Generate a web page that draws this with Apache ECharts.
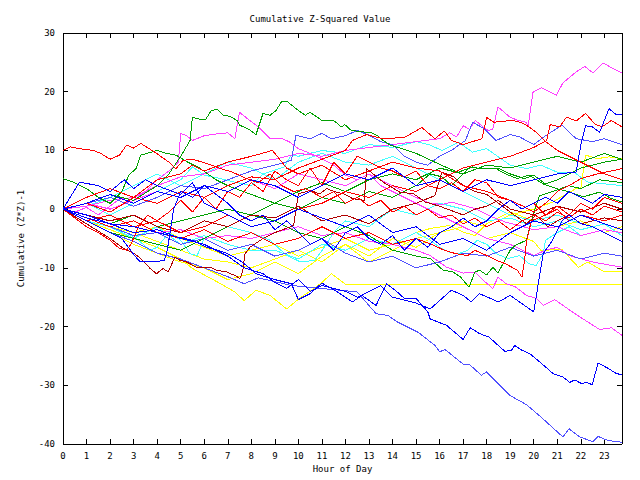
<!DOCTYPE html>
<html><head><meta charset="utf-8">
<script src="https://cdn.jsdelivr.net/npm/echarts@6/dist/echarts.min.js"></script>
<style>html,body{margin:0;padding:0;background:#fff}#c{width:640px;height:480px}#c svg path{shape-rendering:crispEdges}</style>
</head><body><div id="c"></div>
<script>
const xTicks = [0,1,2,3,4,5,6,7,8,9,10,11,12,13,14,15,16,17,18,19,20,21,22,23];
const yTicks = [-40,-30,-20,-10,0,10,20,30];

// each series: [hour, cumulative value]
const magTop = [[0,0],[1,0.5],[2,1.5],[3,2],[4,4],[5,5.5],[6,6],[7,7.5],[8,8],[9,8.5],[10,9.5],[11,9],[12,10],[13,10.5],[14,11],[15,11.5],[16,12],[16.43,13],[16.72,12.3],[17,14.2],[17.28,13.6],[17.52,15.1],[17.85,14],[18.06,13.4],[18.26,13.6],[18.48,17.4],[18.98,15.7],[19.27,15.2],[19.69,14.8],[19.76,14],[19.97,19.9],[20.33,20.7],[20.96,19.4],[21.24,21.5],[21.81,23.4],[22.17,24.3],[22.52,23.2],[22.94,24.9],[23.3,24.1],[23.75,23.2]];
const magPeak = [[0,0],[0.5,-0.5],[1,0.3],[1.5,-1],[2,0.5],[2.5,2],[3,1.5],[3.5,3],[4,5],[4.5,6.5],[4.9,8],[5,12.9],[5.25,12.5],[5.5,11.7],[6,12.5],[6.5,12.8],[7,13],[7.3,12],[7.5,16.5],[7.9,15.2],[8.3,14],[8.8,12],[9.3,12],[9.6,11.5],[10,10.3],[10.5,9.5],[11,8.6],[11.5,7.5],[12,5.8],[12.5,5],[13,6],[13.5,4],[14,3],[14.5,2],[15,1],[15.5,0],[16,-1],[17,-3],[18,-5],[19,-6],[20,-7.9],[20.5,-7],[21,-6.5],[21.5,-7.9],[22.5,-9],[23.75,-9.9]];
const magLow = [[0,0],[1,-1.5],[2,-2.5],[3,-3],[4,-4],[5,-3.5],[6,-5],[7,-4.5],[8,-5],[9,-4],[10,-3],[11,-4.5],[12,-4],[13,-5.5],[14,-6],[15,-7],[15.6,-7.9],[16.3,-9.9],[17,-10.9],[17.5,-10.7],[17.85,-12.1],[18.26,-13.5],[18.48,-11.6],[18.83,-12.7],[19.25,-13.3],[19.69,-14.7],[20.11,-15.2],[20.4,-16.4],[20.89,-15.4],[21.53,-17.2],[22.17,-18.9],[22.8,-20.5],[23.3,-20.2],[23.75,-21.5]];
const magMid = [[0,0],[1,1],[2,0],[3,1.5],[4,3],[5,2],[6,4],[7,3],[8,5],[9,3.5],[10,6],[11,5],[12,4],[13,6],[14,4],[15,2],[15.6,1],[16.1,0.8],[16.5,1.2],[17.5,0.1],[18.2,-1.3],[18.8,-2.2],[19.4,-2.8],[20,-3.5],[21,-3],[22,-4.5],[23,-3.5],[23.75,-4]];

const grnPeak = [[0,0],[1,1],[2,2.5],[3,1.5],[4,4],[4.5,6],[5,9],[5.4,11.7],[5.5,15.7],[5.7,15.4],[6.05,15.2],[6.3,16.8],[6.55,17],[6.8,16],[7.1,15.8],[7.4,15.1],[7.5,14.3],[7.9,13.6],[8.2,12.7],[8.5,16.3],[8.8,16],[9.05,16.8],[9.3,18.4],[9.5,18.4],[10,16.8],[10.3,16],[10.5,16.5],[11,15.1],[11.5,15.1],[11.83,14],[11.97,14.4],[12.25,13.4],[13.1,13],[13.4,12.4],[13.6,11.7],[13.9,10.9],[14.4,10.3],[15,9.5],[15.8,8],[16.4,6.9],[16.8,6.3],[17.4,7.2],[17.7,6.9],[18.4,6.9],[18.8,6],[19.3,5.2],[19.8,5.8],[20.4,4.3],[20.97,3.5],[21.53,2.9],[22.1,2.1],[22.8,2.9],[23.3,1.8],[23.75,1.2]];
const grnDip = [[0,0],[1,-2],[2,-4],[3,-5],[4,-6],[5,-7],[6,-5],[7,-3],[8,-1],[9,-2],[10,-4],[11,-5],[12,-3],[13,-4.5],[14,-7],[15,-8],[15.6,-8.4],[16.15,-10.4],[16.57,-10.7],[16.9,-11.6],[17.25,-13.3],[17.5,-10.7],[17.7,-10.4],[18,-11.2],[18.27,-9.9],[18.48,-10.9],[19,-7],[19.2,-6.2],[19.69,-5.3],[19.8,-3.6],[20.1,0.6],[20.25,2.3],[20.8,3],[21.5,4],[22,3.5],[22.8,5],[23.75,4.5]];
const grnFive = [[0,5.2],[0.5,4.5],[1,3.5],[1.5,2],[2,1],[2.5,3],[2.8,5.8],[3.1,6.9],[3.3,9.2],[4,10],[4.4,9.5],[4.8,9.2],[5.3,8],[5.8,7],[6.5,5],[7,4],[8,2.5],[9,1],[10,3],[11,4.5],[12,3],[13,5],[14,6],[15,5],[16,7],[17,6],[18,7.5],[19,7],[20,8],[21,9],[22,8],[23,9.5],[23.75,8.5]];
const grnRise = [[0,0],[1,-1],[2,-2.5],[3,-1],[4,-3],[5,-2],[6,-1],[7,0],[8,-1],[9,1],[10,0],[11,2],[12,1],[13,3],[14,2],[15,4],[15.6,6],[16.1,5.5],[16.5,4],[17.3,7.2],[17.7,6.9],[18.5,7],[19,6],[19.6,5.2],[20,5.8],[20.5,4.3],[21,5],[21.5,6],[22,7],[22.5,7.5],[23,8],[23.75,8.5]];

const bluLow = [[0,0],[1,-1.5],[2,-2.5],[3,-3],[4,-4],[5.5,-5.3],[6.1,-6.5],[6.6,-7],[7,-7.6],[7.5,-8.7],[7.8,-9.6],[8.2,-11],[9,-12],[9.7,-12.7],[10,-15.4],[10.5,-14.4],[11,-12.6],[11.5,-13.7],[12.3,-15.8],[12.7,-14.7],[13.3,-16.4],[13.75,-12.7],[14.2,-14.1],[14.5,-15.2],[15,-15.2],[15.5,-17.5],[15.6,-18.7],[16.3,-19.8],[17,-22.2],[17.3,-20.2],[17.7,-21.2],[18.1,-21.8],[18.49,-23.2],[18.77,-24.2],[19.05,-24.1],[19.19,-23.2],[19.48,-24],[19.83,-24.6],[20.25,-26],[20.82,-28],[21.24,-28.6],[21.53,-29.5],[21.74,-29.1],[22.03,-29.7],[22.24,-29.5],[22.49,-29.9],[22.73,-26.2],[23.15,-27.1],[23.51,-28],[23.75,-28.2]];
const bluJump = [[0,0],[1,-1],[2,-2.5],[3,-4],[4,-3.5],[5,-5],[6,-6],[7,-8],[7.7,-10],[8.5,-11],[9,-12.5],[9.5,-13.5],[10,-12],[10.5,-14],[11,-13],[12,-14],[12.5,-15],[13,-14],[13.5,-13],[14,-15],[15,-16],[15.6,-17],[16.5,-13.8],[17,-14.7],[17.35,-15.8],[17.7,-14.4],[18.5,-15.8],[19,-14.7],[20,-17.5],[20.4,-7.6],[20.8,-5.3],[21.2,-2],[21.5,-1],[22,-2.5],[22.5,-3],[23,-4],[23.75,-5.5]];
const bluMid = [[0,0],[0.7,4.6],[1.5,4],[2,3],[2.6,5],[3,3.5],[3.5,5],[4,4],[5,2.5],[5.5,4.5],[6,1],[7,-1],[8,-3],[9,-2],[10,0],[11,-1.5],[12,-3],[13,-1],[14,-4],[15,-3],[16,-6],[17,-5],[18,-7],[19,-4],[20,-2],[21,-3],[22,-1],[23,-2.5],[23.75,-3.5]];
const bluHigh = [[0,0],[1,1],[2,2.5],[3,1],[4,3],[5,2],[6,4],[7,3],[8,5],[9,4],[10,2],[11,4],[12,6],[13,5],[14,7],[15,4],[16,5],[17,3],[18,5],[19,4],[20,5],[21,6],[21.8,6.3],[22,10.9],[22.2,14.2],[22.5,14],[22.8,13.1],[23.2,17.1],[23.5,16.1],[23.75,16.1]];
const bluUp = [[0,0],[1,-2],[2,-4],[2.5,-5],[3.1,-8.2],[3.3,-9],[3.9,-9],[4.3,-8.7],[4.4,-7.6],[4.5,-5.3],[4.7,0],[5,3],[5.5,2],[6,4],[6.5,2.5],[7,1],[7.5,-1],[8,-2],[8.5,-1],[9,-3.5],[9.5,-2],[10,-4],[10.5,-6],[11,-5],[11.5,-7],[12,-4],[12.5,-3],[13,-5],[13.5,-6],[14,-4.5],[14.5,-7],[15,-5],[15.5,-6.5],[16,-4],[16.5,-3],[17,-1.5],[17.5,-3],[18,-2],[18.5,0],[19,1.5],[19.5,0],[20,1],[20.5,2],[21,1],[21.5,3],[22,2],[22.5,1],[23,2.5],[23.75,2]];

const medBottom = [[0,0],[1,-2],[2,-4],[3,-5.5],[4,-7.5],[5,-8.5],[6,-10],[7,-11.5],[7.7,-12.7],[8.3,-11.7],[9.7,-13],[12.5,-14.1],[13.3,-17.8],[13.8,-18.1],[14.2,-19.2],[15.1,-21],[15.8,-23.2],[16,-24.3],[16.23,-23.9],[17,-26.4],[17.28,-26.5],[17.78,-28.3],[17.99,-27.7],[18.98,-31.7],[19.69,-33.3],[20.25,-35.2],[21.24,-38.8],[21.5,-37.4],[21.95,-38.8],[22.52,-39.6],[22.73,-38.7],[23.15,-39.4],[23.75,-39.7]];
const medUpper = [[0,0],[1,1],[2,2],[3,0.5],[4,2],[5,4],[6,3.5],[7,5],[8,6.5],[9,7.5],[9.7,8.3],[9.9,12.6],[10.5,12],[11,12.9],[11.4,12],[12,12.5],[12.5,13.4],[13,12.6],[13.5,11.5],[14,11],[14.5,9],[15,8],[15.5,7.5],[16,9],[16.5,10],[17.1,11.7],[17.4,14.8],[17.9,13.7],[18.4,11.7],[19,12.7],[19.4,12.3],[20,11],[20.5,12.5],[21.2,14.3],[21.8,12],[22.5,11.5],[23,12],[23.75,11]];
const medMid = [[0,0],[1,-1.5],[2,-3],[3,-4.5],[4,-4],[5,-6],[6,-5],[7,-7],[8,-6],[9,-8],[10,-7],[11,-5],[12,-7.5],[13,-9],[14,-8],[15,-10],[16,-9],[17,-7.5],[18,-8],[19,-6.5],[20,-8],[21,-7],[22,-8.5],[23,-7.5],[23.75,-8]];

const cyn1 = [[0,0],[1,1],[2,-1],[3,1],[4,3],[5,5],[5.5,7.2],[6,5.8],[6.7,5.2],[7.3,4.6],[8,4],[8.5,6],[9.4,7.2],[9.7,9.2],[10,9],[11,10],[12,9.5],[13,11],[14,10.5],[15,11.5],[15.6,10.9],[16.1,10],[16.8,11.4],[17.4,9.7],[18,10.3],[19,7.5],[19.7,6.9],[20.3,7.5],[21,6.3],[21.7,6.3],[22.3,4.6],[23.75,4]];
const cyn2 = [[0,0],[1,-2],[2,-3],[3,-5],[4,-3],[5,-6],[6,-4.5],[7,-6],[8,-7],[9,-7],[10,-8.5],[11,-6],[12,-7],[13,-5],[14,-6],[15,-4],[15.6,-5.3],[16,-6.5],[16.4,-7.3],[16.8,-7.6],[17.2,-7],[17.6,-5.3],[18,-6],[18.4,-7.6],[18.9,-8.4],[19.4,-7.9],[19.8,-9.3],[20.1,-9.6],[20.4,-7.6],[20.5,-5.3],[21,-4],[21.5,-3],[22,-4.5],[23,-3.5],[23.75,-4]];
const cyn3 = [[0,0],[1,-1.5],[2,-3],[2.7,-4],[3.2,-5.3],[3.7,-7],[4,-6.5],[4.5,-4],[5,-5.3],[5.4,-7.6],[5.7,-7.9],[6,-5],[7,-3],[8,-4],[8.8,-5.3],[9.5,-7.9],[10.1,-9],[10.7,-8.7],[11.1,-6.5],[11.5,-4],[12,-2],[13,-3],[14,0],[15,-1],[16,1],[17,0],[18,-2],[19,-1.5],[20,-3],[21,-2],[22,-3.5],[23,-2.5],[23.75,-4.5]];
const cyn4 = [[0,0],[1,0.5],[2,2],[3,4],[4,6],[5,4],[6,6],[7,8],[8,7],[9,5],[10,8],[11,9.5],[12,8],[13,7.5],[14,9],[15,7],[16,5],[17,3],[18,1],[19,-1],[20,-2],[21,-1],[22,-2.5],[23,-1.5],[23.75,-2]];

const ylwFlat = [[0,0],[1,-2],[2,-3.5],[3,-5],[4,-6.5],[5,-8.5],[5.5,-10.1],[6,-11.2],[6.7,-12.7],[7.3,-14.1],[7.7,-15.6],[8.2,-13.8],[8.8,-14.7],[9.5,-17],[10.1,-15],[10.5,-14],[11,-12.5],[11.4,-11],[12,-12.8],[23.75,-12.8]];
const ylwUp = [[0,0],[1,-1.5],[2,-3],[3,-4],[4,-5.5],[5,-7],[6,-8.5],[7,-9],[8,-10],[9,-8.5],[10,-7],[11,-9],[12,-6],[13,-8],[14,-5],[15,-6.5],[16,-4],[17,-2],[18,-3],[19,-1],[20,0],[20.8,1.2],[21.4,2.6],[21.8,3.5],[22,3.5],[22.2,9.2],[22.7,8.6],[23.2,8.9],[23.75,8.6]];
const ylwEnd = [[0,0],[1,-2],[2,-4],[3,-6],[4,-7.5],[5,-9],[6,-10],[7,-12],[8,-11],[9,-9],[10,-11],[11,-8],[12,-6],[13,-9],[14,-7],[15,-5],[16,-4],[17,-3],[18,-5],[19,-4],[20,-5.5],[20.3,-7],[21.2,-6.9],[21.9,-9.9],[22.3,-9],[23,-10.7],[23.75,-10.7]];
const ylwMid = [[0,0],[1,-1],[2,-2.5],[3,-4],[4,-3],[5,-5],[6,-6.5],[7,-8],[8,-7],[9,-6],[10,-8],[11,-6.5],[12,-5],[13,-7],[14,-6],[15,-4],[15.6,-3.3],[16.4,-2.8],[17,-3.9],[17.5,-4.5],[18,-2.5],[18.5,-1.5],[19,-0.5],[20,-2],[21,-3],[22,-2],[23,-4],[23.75,-3]];

const drd1 = [[0,0],[1,-2.5],[2,-5],[2.5,-6.5],[3,-7.5],[3.3,-8.4],[3.7,-10.1],[3.97,-11],[4.25,-10.1],[4.47,-10.7],[4.75,-8.2],[4.97,-8.7],[5.25,-9],[5.68,-9.9],[6.25,-9.9],[6.53,-10.4],[6.95,-10.7],[7.3,-11.3],[7.52,-11.8],[7.63,-10.7],[7.73,-7.6],[7.94,-6.5],[8.5,-5],[9,-4],[9.8,-2.8],[10,2.6],[10.5,3.2],[10.9,2.6],[11.2,3.5],[11.6,2.9],[12,2.5],[12.3,1.8],[12.8,1.5],[12.9,6.9],[13.6,4.6],[14.3,2.9],[14.9,2.6],[15.4,1.2],[16,0.5],[17,-1],[17.5,0],[18,0.5],[18.5,1.5],[19,0],[20,-1],[21,0.5],[22,-0.5],[23,1],[23.75,0]];
const drd2 = [[0,0],[1,-1],[2,-2],[3,-1],[4,-3],[5,-4],[6,-2],[7,-3],[8,-1],[9,-1.5],[10,0.5],[11,-2],[12,-1],[13,-2.5],[14,0],[15,1],[15.8,2.3],[16.1,6.3],[16.6,5.5],[17,4],[17.5,3],[18,2.5],[18.5,1],[19,-0.5],[19.7,-2.5],[20.1,-1],[20.6,-3],[21,-2],[21.5,-1],[22,-2.5],[23,-1.5],[23.75,-2]];

const redTop = [[0,10],[0.3,10.6],[0.7,10.3],[1.3,10],[1.6,9.5],[2,8.5],[2.4,9.2],[2.7,10.9],[3,10.4],[3.3,11.2],[3.9,9.7],[4.5,8],[4.8,6.9],[5.1,8.3],[5.5,8.5],[6.1,7.8],[6.7,6.9],[7.2,6.3],[7.8,5.2],[8.3,4.5],[8.8,6],[9.3,4],[9.8,3],[10.3,3.5],[11,2],[11.5,3],[12,1],[12.5,2],[13,0.5],[13.5,1.5],[14,-0.5],[14.5,0.5],[15,-1],[15.5,0],[16,-1.5],[16.5,-1],[17,-2.5],[17.5,-1.5],[18,-3],[18.5,-2],[19,-3.5],[19.5,-2],[20,-1],[20.5,-2],[21,-0.5],[21.5,-1.5],[22,0],[22.5,-1],[23,0.5],[23.75,-0.5]];
const redA = [[0,0],[1,1],[2,-0.5],[3,2],[4,1],[5,3],[6,2],[7,4],[8,5.5],[9,5],[10,7],[11,8.5],[12,10],[12.3,11.7],[12.9,12.7],[13.6,12],[14.5,12.2],[15.25,13.9],[15.8,12],[16.2,13.3],[16.5,11.7],[17,11],[17.8,12],[18.0,15.6],[18.3,14.8],[18.8,15],[19.1,15.1],[19.5,14.7],[19.8,14],[20.1,13.1],[20.5,11.5],[21,10],[21.5,9],[22,8],[23,6],[23.75,5]];
const redB = [[0,0],[1,-2],[2,-1],[3,-3],[4,-2],[5,-4],[6,-3],[7,-1],[8,-3],[9,-2],[10,0],[11,1],[12,3],[13,2],[14,4],[15,3],[16,5],[17,7],[18,8],[19,9],[20,10.5],[20.55,11.7],[20.7,14.4],[21.1,14],[21.4,15.7],[21.8,15],[22.2,16.3],[22.6,14.5],[22.9,14],[23.3,15.1],[23.75,14]];
const redC = [[0,0],[1,-1.5],[2,-3],[3,-2],[4,-4],[5,-5],[6,-3.5],[7,-5.5],[8,-4],[9,-6],[10,-5],[11,-3],[12,-5],[13,-4],[14,-6],[15,-5],[15.6,-5.9],[16.2,-7],[16.7,-7.6],[17.2,-7.9],[17.5,-7],[18,-7.9],[18.4,-8.7],[18.8,-9.3],[19.3,-10.4],[19.5,-11.6],[19.6,-9],[19.7,-5.3],[19.9,-2],[20.5,-1],[21,0.5],[21.5,-1],[22,1],[22.5,0],[23,2],[23.75,1]];
const redD = [[0,0],[1,2],[2,3.5],[3,2],[4,5],[5,6],[5.5,7.5],[6,6.5],[7,8],[8,9],[8.9,10],[9.5,7],[10,6],[11,7.5],[12,5],[13,6.5],[14,8],[15,7],[16,6.5],[17,4],[18,3],[19,1.5],[19.5,0.6],[20,-0.5],[20.5,1],[21,3],[21.5,4],[22,5.2],[22.7,6],[23.75,6.9]];
const redE = [[0,0],[0.5,-1.5],[1,-3],[1.5,-4],[2,-5.3],[2.4,-6.7],[2.7,-7],[2.9,-5.9],[3.2,-3],[3.6,-1],[4,-2],[4.5,-0.5],[5,1.5],[5.5,-0.5],[6,2],[6.5,0],[7,3],[7.5,2],[8,4.5],[8.5,3],[9,6.5],[9.5,5],[10,4],[10.5,7],[11,4],[11.5,8],[12,6],[12.5,9],[13,8],[13.5,7],[14,6.5],[14.5,5.5],[15,6.5],[15.5,4],[16,3.5],[16.5,4.5],[17,3],[17.5,5],[18,4.5],[18.5,2],[19,1.5],[19.5,0],[20,1],[20.5,-1],[21,0],[21.5,-2],[22,-1],[23,-2],[23.75,-1]];

const RED='#ff0000', GRN='#00a000', BLU='#0000ff', MAG='#ff40ff', CYN='#40ffff', YLW='#ffff00', DRD='#b00000', MBL='#5050ff';
const lines = [
  [ylwFlat,YLW],[ylwUp,YLW],[ylwEnd,YLW],[ylwMid,YLW],
  [cyn1,CYN],[cyn2,CYN],[cyn3,CYN],[cyn4,CYN],
  [magTop,MAG],[magPeak,MAG],[magLow,MAG],[magMid,MAG],
  [medBottom,MBL],[medUpper,MBL],[medMid,MBL],
  [grnPeak,GRN],[grnDip,GRN],[grnFive,GRN],[grnRise,GRN],
  [drd1,DRD],[drd2,DRD],
  [redTop,RED],[redA,RED],[redB,RED],[redC,RED],[redD,RED],[redE,RED],
  [bluLow,BLU],[bluJump,BLU],[bluMid,BLU],[bluHigh,BLU],[bluUp,BLU]
];

const FONT = 'DejaVu Sans Mono';
const chart = echarts.init(document.getElementById('c'), null, {renderer:'svg'});
const axisCommon = {
  axisLine:{show:true, onZero:false, lineStyle:{color:'#000', width:1}},
  axisTick:{show:true, inside:true, length:5, lineStyle:{color:'#000'}},
  splitLine:{show:false}
};
chart.setOption({
  animation:false,
  backgroundColor:'#fff',
  title:{text:'Cumulative Z-Squared Value', left:'center', top:9,
    textStyle:{fontFamily:FONT, fontSize:9, fontWeight:'normal', color:'#000'}},
  grid:{left:63, right:18, top:33, bottom:36},
  xAxis:[
    Object.assign({type:'value', min:0, max:23.75, interval:1, position:'bottom',
      name:'Hour of Day', nameLocation:'middle', nameGap:20,
      nameTextStyle:{fontFamily:FONT, fontSize:9, color:'#000'},
      axisLabel:{fontFamily:FONT, fontSize:9, color:'#000', margin:7, showMaxLabel:false,
        formatter:v=> xTicks.includes(v)? String(v):''}}, axisCommon),
    Object.assign({type:'value', min:0, max:23.75, interval:1, position:'top',
      axisLabel:{show:false}}, axisCommon)
  ],
  yAxis:[
    Object.assign({type:'value', min:-40, max:30, interval:10, position:'left',
      name:'Cumulative (Z*Z)-1', nameLocation:'middle', nameGap:38, nameRotate:90,
      nameTextStyle:{fontFamily:FONT, fontSize:9, color:'#000'},
      axisLabel:{fontFamily:FONT, fontSize:9, color:'#000', margin:8,
        formatter:v=> yTicks.includes(v)? String(v):''}}, axisCommon),
    Object.assign({type:'value', min:-40, max:30, interval:10, position:'right',
      axisLabel:{show:false}}, axisCommon)
  ],
  series: lines.map(([d,c])=>({type:'line', data:d, showSymbol:false, symbol:'none',
    lineStyle:{color:c, width:1}, itemStyle:{color:c}, silent:true}))
});
</script></body></html>
